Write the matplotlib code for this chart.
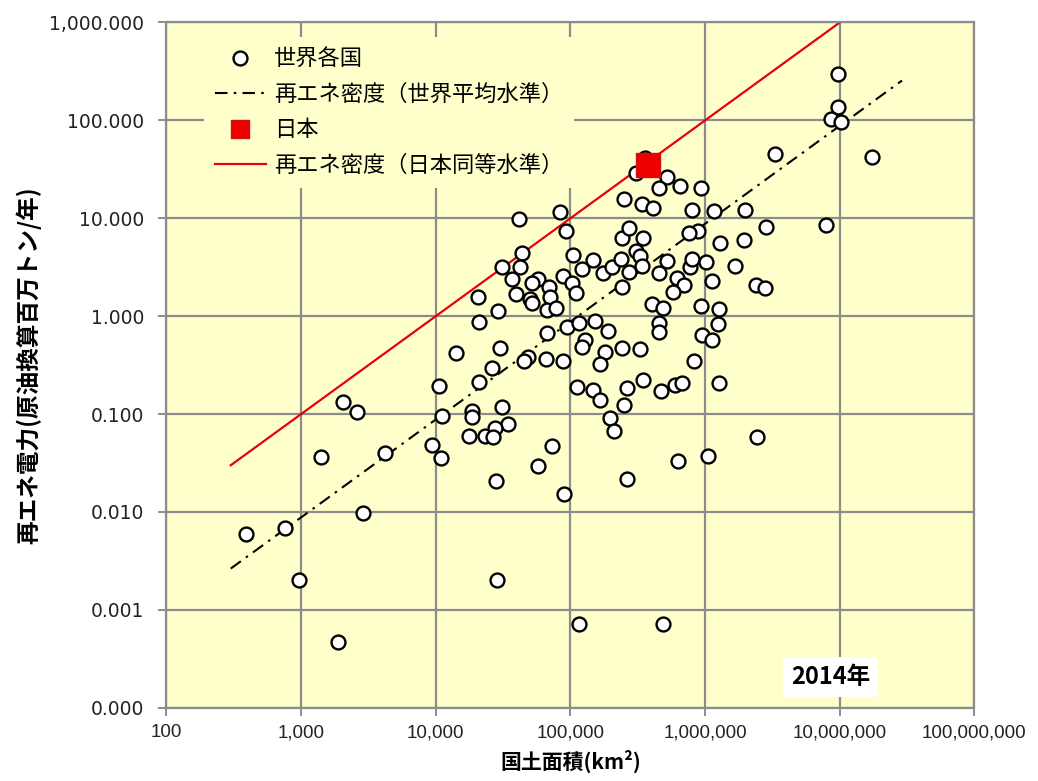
import numpy as np
import matplotlib.pyplot as plt
from matplotlib.lines import Line2D
from matplotlib.ticker import FixedLocator, FuncFormatter, NullLocator

plt.rcParams['font.family'] = ['Noto Sans CJK JP', 'DejaVu Sans']

# 国土面積 (km2) and 再エネ電力 (Mtoe/年) for each country
area_km2 = [
    41600, 84300, 92900, 248000, 241000, 274000, 44000, 30900, 42300, 37100,
    57300, 51600, 39300, 50200, 51600, 69800, 70600, 66800, 78000, 88700,
    102000, 110000, 105000, 122000, 146000, 176000, 203000, 236000, 270000, 241000,
    20700, 28900, 21000, 66800, 95100, 115000, 151000, 191000, 128000, 122000,
    181000, 241000, 30100, 14200, 48700, 45500, 65600, 87800, 166000, 26100,
    359000, 308000, 520000, 458000, 653000, 935000, 339000, 409000, 798000, 1170000,
    1990000, 3320000, 9700000, 9700000, 8610000, 10300000, 17300000, 7890000, 2830000, 1930000,
    1290000, 893000, 762000, 343000, 308000, 330000, 339000, 520000, 451000, 774000,
    805000, 1020000, 1680000, 617000, 692000, 582000, 1120000, 2400000, 2800000, 403000,
    486000, 935000, 1260000, 456000, 451000, 1240000, 946000, 1120000, 326000, 834000,
    2060, 2620, 1400, 4200, 2870, 759, 970, 1870, 10600, 21000,
    11100, 18500, 18500, 30900, 34300, 17500, 23200, 27600, 26800, 9330,
    10900, 28000, 57800, 72800, 89800, 28400, 116000, 112000, 148000, 166000,
    197000, 209000, 248000, 265000, 262000, 348000, 470000, 600000, 673000, 1260000,
    2430000, 1050000, 634000, 491000, 390,
]
re_mtoe = [
    9.77, 11.7, 7.42, 15.6, 6.25, 7.91, 4.45, 3.16, 3.16, 2.38,
    2.38, 2.17, 1.69, 1.49, 1.37, 2.00, 1.58, 1.16, 1.20, 2.57,
    2.17, 1.74, 4.22, 3.01, 3.75, 2.78, 3.16, 3.81, 2.85, 2.00,
    1.58, 1.13, 0.873, 0.669, 0.771, 0.846, 0.893, 0.706, 0.571, 0.488,
    0.434, 0.470, 0.470, 0.418, 0.386, 0.351, 0.363, 0.351, 0.325, 0.294,
    41.0, 28.8, 26.2, 20.2, 21.5, 20.2, 13.9, 12.7, 12.2, 12.0,
    12.2, 45.4, 298, 136, 103, 97, 42.0, 8.55, 8.21, 6.00,
    5.55, 7.47, 7.13, 6.25, 4.67, 4.12, 3.28, 3.69, 2.74, 3.20,
    3.81, 3.60, 3.28, 2.44, 2.08, 1.78, 2.29, 2.08, 1.95, 1.33,
    1.20, 1.27, 1.18, 0.846, 0.685, 0.827, 0.643, 0.571, 0.462, 0.348,
    0.134, 0.106, 0.0367, 0.0398, 0.00984, 0.00681, 0.00202, 0.000473, 0.194, 0.214,
    0.0957, 0.108, 0.094, 0.119, 0.0787, 0.0602, 0.0602, 0.0716, 0.0588, 0.0483,
    0.0359, 0.0207, 0.0297, 0.0472, 0.0152, 0.00202, 0.000718, 0.188, 0.176, 0.139,
    0.0918, 0.0672, 0.124, 0.184, 0.0216, 0.223, 0.173, 0.198, 0.209, 0.206,
    0.0588, 0.0373, 0.0334, 0.000718, 0.00596,
]

japan_area = 378000
japan_re = 35.0

# density lines (Mtoe per km2) and their x ranges
world_density = 8.8e-6
japan_density = 1.0e-4
world_range = [300, 2.9e7]
japan_range = [300, 1.0e7]

x_ticks = [1e2, 1e3, 1e4, 1e5, 1e6, 1e7, 1e8]
y_ticks = [1e-4, 1e-3, 1e-2, 1e-1, 1e0, 1e1, 1e2, 1e3]

labels = ['世界各国', '再エネ密度（世界平均水準）', '日本', '再エネ密度（日本同等水準）']

bg = '#ffffcc'
grid_c = '#8c8c8c'
dashdot = (0, (6, 3, 1.2, 3))

fig = plt.figure(figsize=(10.38, 7.81), dpi=100)
ax = fig.add_axes([0.1604, 0.0938, 0.7783, 0.8774])
ax.set_facecolor(bg)
ax.set_xscale('log')
ax.set_yscale('log')
ax.set_xlim(1e2, 1e8)
ax.set_ylim(1e-4, 1e3)

ax.xaxis.set_major_locator(FixedLocator(x_ticks))
ax.yaxis.set_major_locator(FixedLocator(y_ticks))
ax.xaxis.set_minor_locator(NullLocator())
ax.yaxis.set_minor_locator(NullLocator())
ax.xaxis.set_major_formatter(FuncFormatter(lambda v, p: '{:,.0f}'.format(v)))
ax.yaxis.set_major_formatter(FuncFormatter(lambda v, p: '{:,.3f}'.format(v)))

ax.grid(True, color=grid_c, lw=1.6)
ax.set_axisbelow(True)
for s in ax.spines.values():
    s.set_color(grid_c)
    s.set_linewidth(1.6)
ax.tick_params(axis='x', length=6, width=1.4, color=grid_c, pad=6)
ax.tick_params(axis='y', length=6, width=1.4, color=grid_c, pad=10)

for t in ax.get_yticklabels():
    t.set_fontfamily('DejaVu Sans')
    t.set_fontsize(13.5)
    t.set_color('#222222')
for t in ax.get_xticklabels():
    t.set_fontfamily('Liberation Sans')
    t.set_fontsize(13.5)
    t.set_color('#222222')

wx = np.array(world_range)
jx = np.array(japan_range)
ax.plot(wx, wx * world_density, color='black', lw=1.5, linestyle=dashdot, zorder=2)
ax.plot(jx, jx * japan_density, color='#e8000b', lw=1.6, zorder=2)

ax.scatter(area_km2, re_mtoe, s=100, facecolor='white', edgecolor='black',
           linewidth=1.7, zorder=3)
ax.scatter([japan_area], [japan_re], marker='s', s=290, color='#ee0000',
           edgecolor='#cc1111', linewidth=1, zorder=4)

handles = [
    Line2D([], [], ls='none', marker='o', ms=10, mfc='white', mec='black', mew=1.7),
    Line2D([], [], color='black', lw=1.5, linestyle=dashdot),
    Line2D([], [], ls='none', marker='s', ms=13, mfc='#ee0000', mec='#cc1111'),
    Line2D([], [], color='#e8000b', lw=1.6),
]
leg = ax.legend(handles, labels, loc='upper left', bbox_to_anchor=(0.046, 0.979),
                fontsize=16, frameon=True, facecolor=bg, edgecolor='none',
                framealpha=1, borderaxespad=0, borderpad=0.5, labelspacing=0.55,
                handlelength=2.3, handletextpad=0.35)
leg.get_frame().set_boxstyle('square', pad=0)

ax.text(0.822, 0.045, '2014年', transform=ax.transAxes, ha='center', va='center',
        fontsize=17, fontweight='bold', zorder=5,
        bbox=dict(boxstyle='square,pad=0.35', facecolor='white', edgecolor='none'))

ax.set_xlabel('国土面積(km²)', fontsize=15, fontweight='bold', labelpad=6)
ax.set_ylabel('再エネ電力(原油換算百万トン/年)', fontsize=17, fontweight='bold', labelpad=6)

fig.savefig('out.png', dpi=100, facecolor='white')
